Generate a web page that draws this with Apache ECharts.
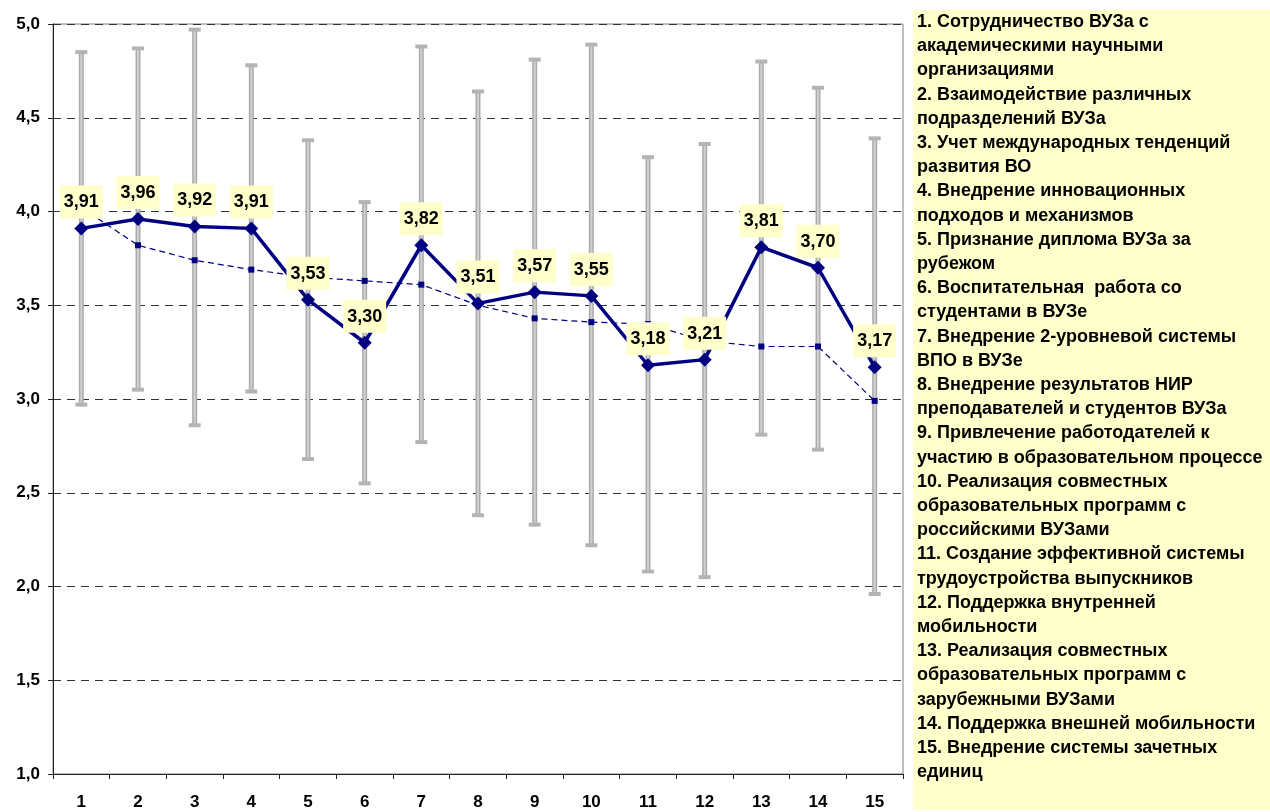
<!DOCTYPE html>
<html>
<head>
<meta charset="utf-8">
<script src="https://cdn.jsdelivr.net/npm/echarts@6/dist/echarts.min.js"></script>
<style>
  html, body { margin: 0; padding: 0; background: #fff; }
  #chart { width: 1270px; height: 812px; }
</style>
</head>
<body>
<div id="chart"></div>
<script>
// номера направлений по оси X
const categories = ['1', '2', '3', '4', '5', '6', '7', '8', '9', '10', '11', '12', '13', '14', '15']
// средние оценки (сплошная линия с ромбами)
const meanValues = [3.91, 3.96, 3.92, 3.91, 3.53, 3.30, 3.82, 3.51, 3.57, 3.55, 3.18, 3.21, 3.81, 3.70, 3.17]
// вторая серия (пунктир с квадратами)
const dashValues = [4.02, 3.82, 3.74, 3.69, 3.65, 3.63, 3.61, 3.50, 3.43, 3.41, 3.40, 3.31, 3.28, 3.28, 2.99]
// границы "усов"
const errHigh = [4.85, 4.87, 4.97, 4.78, 4.38, 4.05, 4.88, 4.64, 4.81, 4.89, 4.29, 4.36, 4.80, 4.66, 4.39]
const errLow = [2.97, 3.05, 2.86, 3.04, 2.68, 2.55, 2.77, 2.38, 2.33, 2.22, 2.08, 2.05, 2.81, 2.73, 1.96]
// подписи справа
const legendLines = [
  '1. Сотрудничество ВУЗа с',
  'академическими научными',
  'организациями',
  '2. Взаимодействие различных',
  'подразделений ВУЗа',
  '3. Учет международных тенденций',
  'развития ВО',
  '4. Внедрение инновационных',
  'подходов и механизмов',
  '5. Признание диплома ВУЗа за',
  'рубежом',
  '6. Воспитательная  работа со',
  'студентами в ВУЗе',
  '7. Внедрение 2-уровневой системы',
  'ВПО в ВУЗе',
  '8. Внедрение результатов НИР',
  'преподавателей и студентов ВУЗа',
  '9. Привлечение работодателей к',
  'участию в образовательном процессе',
  '10. Реализация совместных',
  'образовательных программ с',
  'российскими ВУЗами',
  '11. Создание эффективной системы',
  'трудоустройства выпускников',
  '12. Поддержка внутренней',
  'мобильности',
  '13. Реализация совместных',
  'образовательных программ с',
  'зарубежными ВУЗами',
  '14. Поддержка внешней мобильности',
  '15. Внедрение системы зачетных',
  'единиц'
]

const myChart = echarts.init(document.getElementById('chart'))
const fontFam = 'Arial, "Liberation Sans", sans-serif'

const option = {
  animation: false,
  backgroundColor: '#fff',
  grid: {
    left: 53,
    top: 24,
    width: 850,
    height: 750,
    show: true,
    borderColor: '#808080',
    borderWidth: 1
  },
  xAxis: {
    type: 'category',
    data: categories,
    boundaryGap: true,
    axisLine: { lineStyle: { color: '#222', width: 1 } },
    axisTick: { show: true, length: 5, inside: false, lineStyle: { color: '#222' } },
    axisLabel: {
      color: '#000',
      fontWeight: 'bold',
      fontSize: 17,
      fontFamily: fontFam,
      margin: 20
    },
    splitLine: { show: false }
  },
  yAxis: {
    type: 'value',
    min: 1,
    max: 5,
    interval: 0.5,
    axisLine: { show: true, lineStyle: { color: '#222', width: 1 } },
    axisTick: { show: true, length: 5, lineStyle: { color: '#222' } },
    axisLabel: {
      color: '#000',
      fontWeight: 'bold',
      fontSize: 17,
      fontFamily: fontFam,
      margin: 13,
      formatter: (v) => v.toFixed(1).replace('.', ',')
    },
    splitLine: {
      show: true,
      lineStyle: { color: '#333', type: [8, 6], width: 1 }
    }
  },
  graphic: [
    {
      type: 'rect',
      left: 913,
      top: 10,
      shape: { width: 357, height: 800 },
      style: { fill: '#FFFFCC' },
      z: 0
    },
    {
      type: 'text',
      left: 917,
      top: 10,
      style: {
        text: legendLines.join('\n'),
        fill: '#000',
        font: 'bold 18px ' + fontFam,
        lineHeight: 24.2
      },
      z: 1
    }
  ],
  series: [
    {
      // усы
      type: 'custom',
      name: 'err',
      z: 1,
      encode: { x: 0, y: [1, 2] },
      data: categories.map((c, i) => [i, errLow[i], errHigh[i]]),
      renderItem (params, api) {
        const idx = api.value(0)
        const lo = api.coord([idx, api.value(1)])
        const hi = api.coord([idx, api.value(2)])
        return {
          type: 'group',
          children: [
            {
              type: 'line',
              shape: { x1: hi[0], y1: hi[1], x2: lo[0], y2: lo[1] },
              style: { stroke: '#ABABAB', lineWidth: 5 }
            },
            {
              type: 'line',
              shape: { x1: hi[0], y1: hi[1], x2: lo[0], y2: lo[1] },
              style: { stroke: '#D0D0D0', lineWidth: 2 }
            },
            {
              type: 'rect',
              shape: { x: hi[0] - 6, y: hi[1] - 2, width: 12, height: 4 },
              style: { fill: '#B4B4B4' }
            },
            {
              type: 'rect',
              shape: { x: lo[0] - 6, y: lo[1] - 2, width: 12, height: 4 },
              style: { fill: '#B4B4B4' }
            }
          ]
        }
      }
    },
    {
      type: 'line',
      name: 'dash',
      z: 3,
      data: dashValues,
      symbol: 'rect',
      symbolSize: 6,
      lineStyle: { color: '#000080', width: 1.2, type: [6, 4] },
      itemStyle: { color: '#000080' }
    },
    {
      type: 'line',
      name: 'mean',
      z: 5,
      data: meanValues,
      symbol: 'diamond',
      symbolSize: 14,
      lineStyle: { color: '#000080', width: 3.5 },
      itemStyle: { color: '#000080' },
      label: {
        show: true,
        position: 'top',
        distance: 3,
        color: '#000',
        fontWeight: 'bold',
        fontSize: 18,
        fontFamily: fontFam,
        backgroundColor: '#FFFFCC',
        padding: [8, 4, 7, 4],
        formatter: (p) => p.value.toFixed(2).replace('.', ',')
      }
    }
  ]
}

myChart.setOption(option)
</script>
</body>
</html>
